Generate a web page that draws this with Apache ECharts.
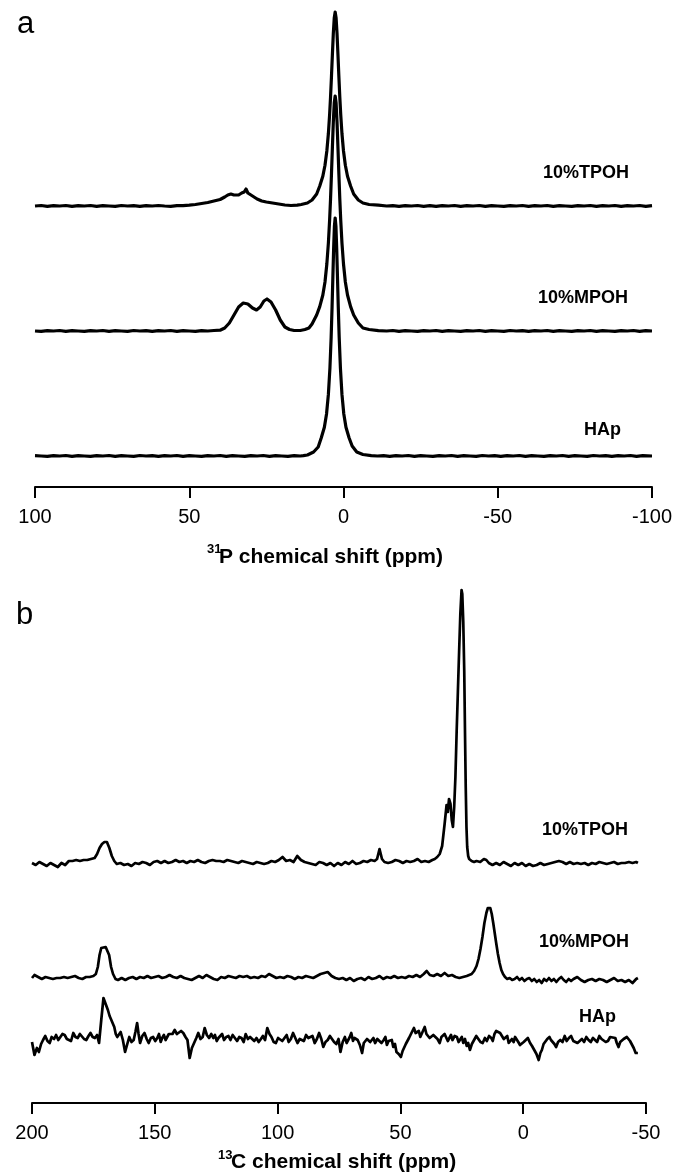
<!DOCTYPE html>
<html><head><meta charset="utf-8">
<script src="https://cdn.jsdelivr.net/npm/echarts@6/dist/echarts.min.js"></script>
<style>html,body{margin:0;padding:0;background:#fff}#c{width:676px;height:1176px}</style>
</head><body><div id="c"></div>
<script>
// ---------- Panel a: 31P spectra, [ppm, intensity] ----------
const pTicks = [100, 50, 0, -50, -100];
const pTPOH = [[100,0],[98,0.5],[96,-0.3],[94,0.4],[92,0],[90,0.5],[88,-0.4],[86,0.3],[84,0],[82,0.5],[80,-0.3],[78,0.4],[76,0],[74,-0.4],[72,0.5],[70,0],[68,0.3],[66,-0.4],[64,0.4],[62,0],[60,0.5],[58,0],[56,-0.3],[54,0.4],[52,0.3],[50,0.8],[48,1.5],[46,2.5],[44,3.5],[42,5],[40,6.5],[38.5,9],[37.5,11],[36.5,12],[35.5,11],[34,11],[33,13],[32.2,14],[31.6,17],[31,13],[30,11],[29,9],[28,7],[26.5,5],[25,4],[23,3],[21,2],[19,1],[17,0.5],[15,0.8],[13.7,1.5],[11.7,3],[10.2,6],[8.7,12],[7.7,20],[6.7,29.7],[6.0,40.7],[5.4,55],[4.9,72.5],[4.5,91.5],[4.2,109],[3.9,129.5],[3.6,151.5],[3.3,172.5],[3.0,188],[2.7,194],[2.4,188],[2.1,172.5],[1.8,151.5],[1.5,129.5],[1.2,109],[0.9,91.5],[0.5,72.5],[0.0,55],[-0.6,40.7],[-1.3,29.7],[-2.3,20],[-3.3,12],[-4.8,6],[-6.3,3],[-8.3,1.5],[-11.3,0.8],[-14,0],[-16,0.4],[-18,-0.3],[-20,0.4],[-22,0],[-24,0.5],[-26,-0.3],[-28,0.3],[-30,-0.4],[-32,0.4],[-34,0],[-36,0.5],[-38,-0.3],[-40,0.3],[-42,0],[-44,0.5],[-46,-0.4],[-48,0.3],[-50,0],[-52,-0.4],[-54,0.4],[-56,0],[-58,0.5],[-60,-0.3],[-62,0.3],[-64,0],[-66,0.5],[-68,-0.4],[-70,0.3],[-72,0],[-74,-0.4],[-76,0.4],[-78,0],[-80,0.5],[-82,-0.3],[-84,0.3],[-86,0],[-88,0.5],[-90,-0.4],[-92,0.3],[-94,0],[-96,0.5],[-98,-0.3],[-100,0.4]];
const pMPOH = [[100,0],[98,-0.4],[96,0.4],[94,0],[92,0.5],[90,-0.3],[88,0.3],[86,0],[84,-0.4],[82,0.4],[80,0],[78,0.5],[76,-0.3],[74,0.3],[72,0],[70,-0.4],[68,0.5],[66,0],[64,0.3],[62,-0.4],[60,0.4],[58,0],[56,0.5],[54,-0.3],[52,0.3],[50,0],[48,-0.4],[46,0.4],[44,0],[42,0.5],[40,0.8],[38.5,3],[37,8],[35.5,16],[34,24],[32.5,28],[31,27],[29.5,23],[28.2,21],[27,24],[25.8,30],[24.8,32],[23.5,29],[22,21],[20.5,11],[19,4],[17.5,1.5],[16,0.5],[14,0.5],[12.5,1.5],[11.2,3],[10.2,7],[8.7,16],[7.7,24.4],[6.7,36],[6.0,49],[5.4,67],[4.9,88],[4.5,111],[4.2,132],[3.9,157],[3.6,183.5],[3.3,209],[3.0,228],[2.7,235],[2.4,228],[2.1,209],[1.8,183.5],[1.5,157],[1.2,132],[0.9,111],[0.5,88],[0.0,67],[-0.6,49],[-1.3,36],[-2.3,24.4],[-3.3,16],[-4.8,8],[-6.3,3],[-8.3,1.5],[-11.3,0.3],[-14,0],[-16,0.5],[-18,-0.3],[-20,0.3],[-22,0],[-24,-0.4],[-26,0.4],[-28,0],[-30,0.5],[-32,-0.3],[-34,0.3],[-36,0],[-38,-0.4],[-40,0.4],[-42,0],[-44,0.5],[-46,-0.3],[-48,0.3],[-50,0],[-52,-0.4],[-54,0.5],[-56,0],[-58,0.3],[-60,-0.4],[-62,0.4],[-64,0],[-66,0.5],[-68,-0.3],[-70,0.3],[-72,0],[-74,-0.4],[-76,0.4],[-78,0],[-80,0.5],[-82,-0.3],[-84,0.3],[-86,0],[-88,-0.4],[-90,0.4],[-92,0],[-94,0.5],[-96,-0.3],[-98,0.3],[-100,0]];
const pHAp = [[100,0.3],[98,0],[96,-0.4],[94,0.4],[92,0],[90,0.5],[88,-0.3],[86,0.3],[84,0],[82,-0.4],[80,0.4],[78,0],[76,0.5],[74,-0.3],[72,0.3],[70,0],[68,-0.4],[66,0.5],[64,0],[62,0.3],[60,-0.4],[58,0.4],[56,0],[54,0.5],[52,-0.3],[50,0.3],[48,0],[46,-0.4],[44,0.4],[42,0],[40,0.5],[38,-0.3],[36,0.3],[34,0],[32,-0.4],[30,0.4],[28,0],[26,0.5],[24,-0.3],[22,0.3],[20,0],[18,-0.4],[16,0.4],[14,0],[13,0.3],[11.7,1],[9.7,4],[8.2,9],[7.2,18.3],[6.2,28.8],[5.5,42],[4.9,61.6],[4.4,88],[4.0,119],[3.7,149.5],[3.45,178.5],[3.2,207],[2.95,229.5],[2.7,238],[2.45,229.5],[2.2,207],[1.95,178.5],[1.7,149.5],[1.4,119],[1.0,88],[0.5,61.6],[-0.1,42],[-0.8,28.8],[-1.8,18.3],[-2.8,10],[-4.3,4],[-6.3,1.5],[-9,0.3],[-11,0],[-13,0.4],[-15,-0.3],[-17,0.3],[-19,0],[-21,0.5],[-23,-0.4],[-25,0.3],[-27,0],[-29,-0.4],[-31,0.4],[-33,0],[-35,0.5],[-37,-0.3],[-39,0.3],[-41,0],[-43,-0.4],[-45,0.5],[-47,0],[-49,0.3],[-51,-0.4],[-53,0.4],[-55,0],[-57,0.5],[-59,-0.3],[-61,0.3],[-63,0],[-65,-0.4],[-67,0.4],[-69,0],[-71,0.5],[-73,-0.3],[-75,0.3],[-77,0],[-79,-0.4],[-81,0.5],[-83,0],[-85,0.3],[-87,-0.4],[-89,0.4],[-91,0],[-93,0.5],[-95,-0.3],[-97,0.3],[-100,0]];

// ---------- Panel b: 13C spectra, [ppm, intensity] ----------
const cTicks = [200, 150, 100, 50, 0, -50];
const cTPOH = [[200,-1],[198.5,-3],[197,0],[195.5,-2],[194,-4],[192.5,-1],[191,-3],[189.5,-5],[188,-1],[186.5,-3],[185,1],[183.5,1],[182,2],[180.5,1],[179,2],[177.5,2],[176,3],[174.5,4],[173.5,8],[172.5,14],[171.5,18],[170.5,20],[169.5,20],[168.5,14],[167.5,6],[166.5,1],[165.5,-2],[164,-1],[162.5,-3],[161,-2],[159.5,-4],[158,-1],[156.5,-2],[155,0],[153.5,-1],[152,-3],[150.5,0],[149,1],[147.5,-1],[146,1],[144.5,-1],[143,0],[141.5,2],[140,0],[138.5,1],[137,-1],[135.5,1],[134,0],[132.5,2],[131,0],[129.5,-1],[128,1],[126.5,2],[125,1],[123.5,1],[122,0],[120.5,2],[119,1],[117.5,0],[116,-1],[114.5,1],[113,0],[111.5,-1],[110,-2],[108.5,0],[107,-1],[105.5,-2],[104,-1],[102.5,1],[101,0],[99.5,2],[98,5],[96.5,1],[95,2],[93.5,0],[92,6],[90.5,2],[89,0],[87.5,-1],[86,-2],[84.5,-3],[83,0],[81.5,-1],[80,-3],[78.5,-1],[77,-4],[75.5,-1],[74,-3],[72.5,0],[71,-2],[69.5,1],[68,-2],[66.5,-1],[65,1],[63.5,0],[62,2],[60.5,1],[59.5,3],[58.5,13],[57.5,3],[56.5,0],[55,-1],[53.5,0],[52,2],[50.5,1],[49,-1],[47.5,1],[46,0],[44.5,1],[43,3],[41.5,0],[40,1],[38.5,0],[37,2],[36,3],[35,5],[34,8],[33,16],[32,38],[31.2,57],[30.7,50],[30.2,63],[29.6,58],[29.1,42],[28.6,35],[28.1,55],[27.6,85],[27.1,130],[26.6,170],[26.1,210],[25.6,248],[25.1,272],[24.8,268],[24.4,240],[24,190],[23.7,130],[23.4,75],[23.1,35],[22.8,15],[22.4,6],[22,3],[21,1],[20,0],[19,1],[17.5,0],[16,3],[15,2],[14,-1],[12.5,-3],[11,-1],[9.5,-3],[8,0],[6.5,-2],[5,-4],[3.5,-1],[2,-3],[0.5,-1],[-1,-4],[-2.5,-2],[-4,-4],[-5.5,-3],[-7,-1],[-8.5,-3],[-10,-2],[-11.5,-1],[-13,0],[-14.5,1],[-16,0],[-17.5,-2],[-19,0],[-20.5,-2],[-22,-1],[-23.5,-2],[-25,-1],[-26.5,-3],[-28,-1],[-29.5,-2],[-31,0],[-32.5,-1],[-34,-2],[-35.5,-1],[-37,0],[-38.5,-2],[-40,-1],[-41.5,-1],[-43,0],[-44.5,-1],[-46,0],[-46.7,-1]];
const cMPOH = [[200,-1],[199,2],[197.5,0],[196,-2],[194.5,0],[193,-1],[191.5,-2],[190,-1],[188.5,-1],[187,0],[185.5,-1],[184,0],[182.5,1],[181,-1],[179.5,-2],[178,0],[176.5,0],[175,1],[174,3],[173.2,10],[172.5,22],[171.8,29],[171,30],[170,30],[169.2,29],[168.6,22],[167.8,10],[167,3],[166,-2],[165,-3],[163.5,-1],[162,-3],[160.5,-1],[159,0],[157.5,-2],[156,0],[154.5,-1],[153,1],[151.5,-1],[150,0],[148.5,1],[147,-1],[145.5,0],[144,2],[142.5,0],[141,-1],[139.5,1],[138,-1],[136.5,-2],[135,-3],[133.5,-1],[132,1],[130.5,-1],[129,2],[127.5,0],[126,-2],[124.5,-3],[123,0],[121.5,-1],[120,1],[118.5,0],[117,-1],[115.5,1],[114,0],[112.5,1],[111,-1],[109.5,0],[108,-1],[106.5,1],[105,0],[103.5,3],[102,1],[100.5,-1],[99,0],[97.5,-1],[96,1],[94.5,0],[93,-2],[91.5,0],[90,-1],[88.5,1],[87,0],[85.5,-1],[84,1],[82.5,3],[81,4],[79.6,5],[78,1],[76.5,-1],[75,-2],[73.5,-1],[72,-3],[70.5,-1],[69,-4],[67.5,-2],[66,-1],[64.5,-3],[63,0],[61.5,-2],[60,-1],[58.5,1],[57,-2],[55.5,0],[54,-1],[52.5,1],[51,-1],[49.5,0],[48,-1],[46.5,1],[45,0],[43.5,2],[42,0],[40.5,3],[39.3,6],[38,2],[36.5,1],[35,3],[33.5,1],[32,4],[30.5,1],[29,2],[27.5,0],[26,-1],[24.5,0],[23,1],[22,2],[21,3],[20,6],[19,11],[18.2,18],[17.4,28],[16.6,40],[15.8,54],[15,64],[14.4,69],[13.9,71],[13.4,69],[12.8,63],[12.2,54],[11.6,44],[11,34],[10.3,23],[9.6,14],[8.9,7],[8.2,3],[7.4,0],[6.5,-2],[5.5,-1],[4.5,-3],[3.5,-2],[2.5,0],[1.5,-3],[0.5,-1],[-0.5,-4],[-1.5,-2],[-2.5,-1],[-3.5,-4],[-4.5,-2],[-5.5,-5],[-6.5,-3],[-7.5,-6],[-8.5,-2],[-9.5,-4],[-10.5,-1],[-11.5,-4],[-12.5,-2],[-13.5,-5],[-14.5,-2],[-15.5,0],[-16.5,-3],[-17.5,-5],[-18.5,-2],[-19.5,-4],[-20.5,-2],[-22,0],[-23.5,-3],[-25,-5],[-26.5,-3],[-28,-2],[-29.5,-4],[-31,-2],[-32.5,-3],[-34,-5],[-35.5,-3],[-37,-1],[-38.5,-4],[-40,-3],[-41.5,-5],[-43,-3],[-44.5,-6],[-46,-2],[-46.7,-1]];
const cHAp = [[200,-2],[199,-15],[198,-8],[197.2,-12],[196.3,-4],[195.5,0],[194.6,4],[193.7,-1],[192.8,-3],[192,3],[191,1],[190.2,5],[189.3,0],[188.5,2],[187.6,6],[186.7,5],[185.8,1],[185,3],[184.1,-1],[183.2,7],[182.3,3],[181.4,2],[180.5,6],[179.7,5],[178.8,1],[177.9,0],[177,4],[176.2,7],[175.3,3],[174.4,2],[173.5,5],[172.7,-3],[171.8,20],[170.9,42],[170,36],[169.1,30],[168.4,24],[167.7,20],[166.5,13],[165.9,6],[165.3,3],[164.6,5],[163.9,8],[163,0],[162.1,-12],[161.2,-4],[160.4,3],[159.5,-2],[158.6,0],[157.9,8],[157.2,17],[156.6,6],[156,-3],[155.1,4],[154.2,7],[153.3,1],[152.5,-3],[151.6,2],[150.7,3],[149.8,-1],[149,2],[148.3,6],[147.6,-2],[147,2],[146.3,5],[145.6,0],[145,1],[144.3,6],[143.7,8],[142.8,6],[141.9,10],[141,6],[140.2,5],[139.3,9],[138.4,7],[137.5,3],[136.7,0],[135.8,-18],[134.9,-8],[134,-3],[133.1,2],[132.3,7],[131.4,1],[130.5,3],[129.7,12],[128.8,5],[127.9,2],[127,6],[126.2,2],[125.5,5],[124.8,-1],[124.1,2],[123.5,3],[122.6,6],[121.8,0],[120.9,3],[120,4],[119.2,0],[118.3,5],[117.4,2],[116.5,-1],[115.6,3],[114.7,2],[113.8,-2],[113,6],[112.1,1],[111.2,3],[110.4,5],[109.5,-1],[108.6,2],[107.7,-2],[106.8,1],[106,4],[105.1,0],[104.2,12],[103.3,6],[102.5,3],[101.6,-2],[100.7,-3],[99.8,2],[99,3],[98.1,-1],[97.2,2],[96.3,5],[95.5,-2],[94.6,1],[93.7,7],[92.8,2],[91.9,-3],[91,1],[90.2,3],[89.3,-1],[88.4,5],[87.5,2],[86.7,0],[85.8,4],[84.9,-3],[84,1],[83.1,7],[82.2,1],[81.4,-7],[80.5,-2],[79.6,0],[78.7,4],[77.9,2],[77,-2],[76.1,-4],[75.2,1],[74.4,-12],[73.5,-2],[72.6,3],[71.9,-3],[71.3,-1],[70.6,3],[70,7],[69.3,-1],[68.7,2],[68,4],[67.4,0],[66.5,-5],[65.6,-13],[64.9,-3],[64.3,-4],[63.6,1],[63,3],[62.3,-2],[61.7,-1],[61,2],[60.3,-3],[59.4,1],[58.6,2],[57.7,-3],[56.8,0],[56.1,3],[55.5,-5],[54.8,-1],[54.2,-3],[53.5,0],[52.9,-7],[52.2,-4],[51.6,-12],[50.7,-14],[49.8,-17],[49.1,-11],[48.5,-10],[47.8,-4],[47.2,-3],[46.5,2],[45.8,4],[45.1,9],[44.5,12],[43.8,7],[43.2,5],[42.5,9],[41.9,3],[41,8],[40.1,13],[39.4,6],[38.8,6],[38.1,2],[37.5,2],[36.6,5],[35.8,7],[34.9,1],[34,-3],[33.3,3],[32.7,2],[32,6],[31.4,5],[30.7,-1],[30.1,1],[29.4,5],[28.8,0],[27.9,4],[27,3],[26.3,-2],[25.7,-1],[25,3],[24.4,-3],[23.7,1],[23,-6],[22.4,-3],[21.7,-10],[20.9,-4],[20,0],[19.1,4],[18.3,2],[17.4,-2],[16.5,-3],[15.6,2],[14.8,-1],[13.9,4],[13,2],[12.4,-1],[11.7,6],[11,9],[10.3,11],[9.4,7],[8.6,5],[7.9,1],[7.2,1],[6.5,4],[5.9,-3],[5.2,-1],[4.6,1],[3.9,-2],[3.3,3],[2.6,1],[2,-2],[1.3,-5],[0.7,-7],[-0.2,-2],[-1,-1],[-1.9,2],[-2.8,-3],[-3.6,-6],[-4.5,-10],[-5.4,-14],[-6.3,-20],[-7,-13],[-7.6,-10],[-8.3,-4],[-9,-2],[-9.8,1],[-10.7,3],[-11.3,0],[-12,-1],[-12.7,-4],[-13.4,-7],[-14.2,-2],[-15.1,0],[-16,-2],[-16.9,4],[-17.7,-1],[-18.6,2],[-19.5,4],[-20.4,-1],[-21.2,1],[-22.1,-3],[-23,-1],[-23.9,1],[-24.8,-2],[-25.7,3],[-26.6,0],[-27.5,-2],[-28.4,2],[-29.2,0],[-30.1,-2],[-31,4],[-31.9,1],[-32.7,2],[-33.6,-2],[-34.5,-1],[-35.4,3],[-36.2,5],[-37.5,2],[-38.1,-3],[-38.8,-7],[-39.5,-2],[-40.2,-3],[-40.9,1],[-41.5,0],[-42.2,3],[-42.8,2],[-43.5,-1],[-44.1,-3],[-45,-8],[-45.8,-13],[-46.7,-13]];

const labelsA = ['10%TPOH', '10%MPOH', 'HAp'];
const labelsB = ['10%TPOH', '10%MPOH', 'HAp'];

// ---------- layout ----------
const A = {left: 35, width: 617, min: -100, max: 100, axisY: 487, base: [206, 331, 456]};
const B = {left: 32, width: 614, min: -50, max: 200, axisY: 1103, base: [862, 977, 1040]};
const FONT = '"Liberation Sans", Arial, Helvetica, sans-serif';

const grids = [], xAxes = [], yAxes = [], series = [];
function addAxisGrid(P, ticks) {
  const gi = grids.length;
  grids.push({left: P.left, width: P.width, top: P.axisY - 100, height: 100});
  xAxes.push({gridIndex: gi, type: 'value', min: P.min, max: P.max, interval: 50, inverse: true,
    axisLine: {show: true, onZero: false, lineStyle: {color: '#000', width: 2}},
    axisTick: {show: true, length: 11, lineStyle: {color: '#000', width: 2}},
    axisLabel: {show: true, margin: 20, color: '#000', fontSize: 20, fontFamily: FONT,
      formatter: v => (ticks.indexOf(v) >= 0 ? String(v) : '')},
    splitLine: {show: false}});
  yAxes.push({gridIndex: gi, type: 'value', show: false, min: 0, max: 1});
}
function addSpectrum(P, base, data, lw) {
  const gi = grids.length;
  grids.push({left: P.left, width: P.width, top: base - 100, height: 120});
  xAxes.push({gridIndex: gi, type: 'value', min: P.min, max: P.max, inverse: true, show: false});
  yAxes.push({gridIndex: gi, type: 'value', min: -20, max: 100, show: false});
  series.push({type: 'line', xAxisIndex: gi, yAxisIndex: gi, data: data, showSymbol: false,
    symbol: 'none', clip: false, smooth: false, animation: false,
    lineStyle: {color: '#000', width: lw, join: 'round'}});
}
addAxisGrid(A, pTicks);
addSpectrum(A, A.base[0], pTPOH, 3.2);
addSpectrum(A, A.base[1], pMPOH, 3.2);
addSpectrum(A, A.base[2], pHAp, 3.2);
addAxisGrid(B, cTicks);
addSpectrum(B, B.base[0], cTPOH, 2.7);
addSpectrum(B, B.base[1], cMPOH, 2.7);
addSpectrum(B, B.base[2], cHAp, 2.7);

function txt(x, y, s, size, weight, align) {
  return {type: 'text', x: x, y: y, silent: true,
    style: {text: s, font: (weight || 'normal') + ' ' + size + 'px ' + FONT, fill: '#000',
      align: align || 'left', verticalAlign: 'middle'}};
}
const graphics = [
  txt(17, 24, 'a', 31),
  txt(16, 615, 'b', 31),
  txt(629, 173, labelsA[0], 18, 'bold', 'right'),
  txt(628, 298, labelsA[1], 18, 'bold', 'right'),
  txt(621, 430, labelsA[2], 18, 'bold', 'right'),
  txt(628, 830, labelsB[0], 18, 'bold', 'right'),
  txt(629, 942, labelsB[1], 18, 'bold', 'right'),
  txt(616, 1017, labelsB[2], 18, 'bold', 'right'),
  txt(207, 549, '31', 13, 'bold'),
  txt(219, 557, 'P chemical shift (ppm)', 21, 'bold'),
  txt(218, 1155, '13', 13, 'bold'),
  txt(231, 1162, 'C chemical shift (ppm)', 21, 'bold')
];

const chart = echarts.init(document.getElementById('c'), null, {renderer: 'canvas'});
chart.setOption({animation: false, backgroundColor: '#fff',
  grid: grids, xAxis: xAxes, yAxis: yAxes, series: series, graphic: graphics});
</script></body></html>
